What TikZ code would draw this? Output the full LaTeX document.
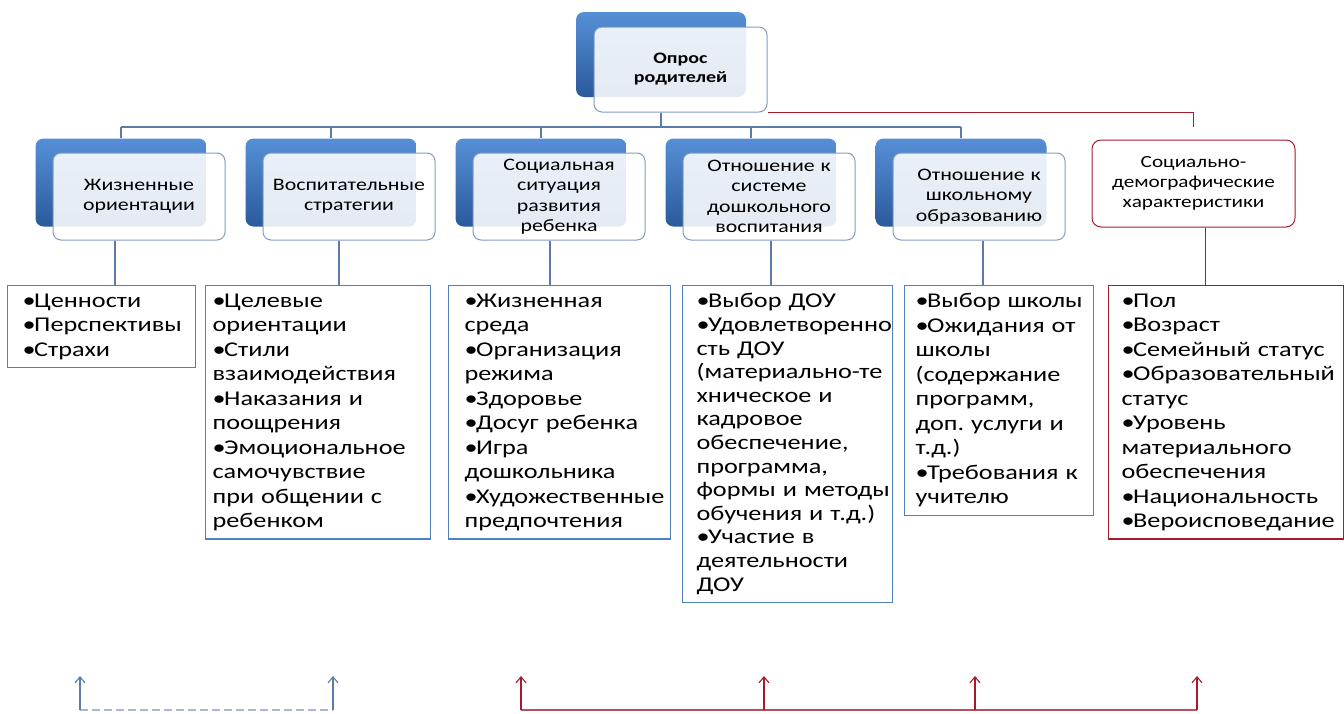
\documentclass[tikz,border=0pt]{standalone}
\usepackage{fontspec}
\setmainfont[FakeStretch=1.25]{Carlito}
\usepackage{tikz}
\usetikzlibrary{arrows}
\usetikzlibrary{arrows.meta}

\definecolor{boxblue}{RGB}{79,129,189}
\definecolor{backtop}{RGB}{86,143,214}
\definecolor{backbot}{RGB}{42,90,156}
\definecolor{edgeblue}{RGB}{130,156,192}
\definecolor{linkblue}{RGB}{92,124,168}
\definecolor{darkred}{RGB}{165,27,44}
\definecolor{softred}{RGB}{180,80,92}
\definecolor{dashgray}{RGB}{170,182,204}

\newcommand{\bul}{•\kern-1.5pt}

\begin{document}
\begin{tikzpicture}[x=1pt,y=-1pt,
		back/.style={rounded corners=8pt,top color=backtop,bottom color=backbot,minimum width=171pt,minimum height=88pt},
		front/.style={rounded corners=8pt,draw=edgeblue,line width=1pt,fill=white,fill opacity=0.88,text opacity=1,
			minimum width=172pt,minimum height=87pt,text width=165pt,align=center,text=black,
			font=\fontsize{17.5}{20.5}\selectfont},
		list/.style={draw=boxblue,line width=1.2pt,anchor=north west,align=left,inner ysep=8pt,text=black,
			font=\fontsize{21}{24.5}\selectfont},
		link/.style={draw=linkblue,line width=1.1pt}]
			\useasboundingbox (0,0) rectangle (1344,713);
			
			% top
			
			\node[back,minimum width=170pt,minimum height=85pt] (Tb) at (661,54.5) {};
			\node[front,minimum width=173pt,minimum height=85pt,font=\fontsize{16}{19}\bfseries] (Tf) at (680.5,69.5) {Опрос\\родителей};
			
			% headers
			
			\foreach \i/\t in {1/{Жизненные\\ориентации},2/{Воспитательные\\стратегии},3/{Социальная\\ситуация\\развития\\ребенка},4/{Отношение к\\системе\\дошкольного\\воспитания},5/{Отношение к\\школьному\\образованию}} {
				\pgfmathsetmacro{\xb}{121+210*(\i-1)}
				\node[back] (Hb\i) at (\xb,182.5) {};
				\node[front] (H\i) at (\xb+18,196.5) {\t};
			}
			\node[rounded corners=9pt,draw=darkred,line width=1pt,fill=white,minimum width=203pt,minimum height=87pt,
				text width=190pt,align=center,text=black,font=\fontsize{17}{20}\selectfont] (H6) at (1193.5,183.5) {Социально-\\демографические\\характеристики};
			
			\coordinate (bus) at (661,127);
			\draw[link] (Tb |- Tf.south) -- (bus);
			\draw[link] (Hb1.north |- bus) -- (Hb5.north |- bus);
			\foreach \i in {1,...,5} {
				\draw[link] (Hb\i.north |- bus) -- (Hb\i.north);
			}
			\draw[draw=darkred,line width=1.1pt] (Tf.south east) -| ([yshift=13pt]H6.north);
			
			% lists
			
			\node[list,inner xsep=15pt,text width=158pt] (L1) at (7,285) {\bul Ценности\\\bul Перспективы\\\bul Страхи};
			\node[list,inner xsep=7pt,text width=211pt] (L2) at (205,285) {\bul Целевые\\ориентации\\\bul Стили\\взаимодействия\\\bul Наказания~и\\поощрения\\\bul Эмоциональное\\самочувствие\\при~общении~с\\ребенком};
			\node[list,inner xsep=16pt,text width=190pt] (L3) at (448,285) {\bul Жизненная\\среда\\\bul Организация\\режима\\\bul Здоровье\\\bul Досуг~ребенка\\\bul Игра\\дошкольника\\\bul Художественные\\предпочтения};
			\node[list,inner xsep=14pt,text width=182pt,font=\fontsize{21}{23.6}\selectfont] (L4) at (682,285) {\bul Выбор~ДОУ\\\bul Удовлетворенно\\сть~ДОУ\\\mbox{(материально-те}\\хническое~и\\кадровое\\обеспечение,\\программа,\\формы~и~методы\\обучения~и~т.д.)\\\bul Участие~в\\деятельности\\ДОУ};
			\node[list,inner xsep=11pt,text width=167pt] (L5) at (904,285) {\bul Выбор~школы\\\bul Ожидания~от\\школы\\(содержание\\программ,\\доп.~услуги~и\\т.д.)\\\bul Требования~к\\учителю};
			\node[list,draw=darkred,inner xsep=13pt,text width=209pt] (L6) at (1108,285) {\bul Пол\\\bul Возраст\\\bul Семейный~статус\\\bul Образовательный\\статус\\\bul Уровень\\материального\\обеспечения\\\bul Национальность\\\bul Вероисповедание};
			
			\foreach \i/\d in {1/-24,2/-10,3/-9,4/2,5/4} {
				\draw[link] ([xshift=\d pt]H\i.south) -- ([xshift=\d pt]H\i.south |- L\i.north);
			}
			\draw[draw=darkred,line width=1.1pt] ([xshift=12pt]H6.south) -- ([xshift=12pt]H6.south |- L6.north);
			
			% bottom arrows
			
			\coordinate (B1) at (80,710);
			\coordinate (B2) at (333,710);
			\draw[dashgray,line width=1.8pt,dash pattern=on 8pt off 4pt] (B1) -- (B2);
			\foreach \i in {1,2} {
				\draw[linkblue,line width=1.1pt,-{Straight Barb[length=6pt,width=10pt]}] (B\i) -- ++(0,-34);
			}
			\foreach \i/\x in {1/521,2/764,3/975,4/1197} {
				\coordinate (R\i) at (\x,710);
			}
			\draw[softred,line width=2.2pt] (R1) -- (R4);
			\foreach \i in {1,...,4} {
				\draw[darkred,line width=1.1pt,-{Straight Barb[length=6pt,width=10pt]}] (R\i) -- ++(0,-34);
			}
		\end{tikzpicture}
\end{document}
